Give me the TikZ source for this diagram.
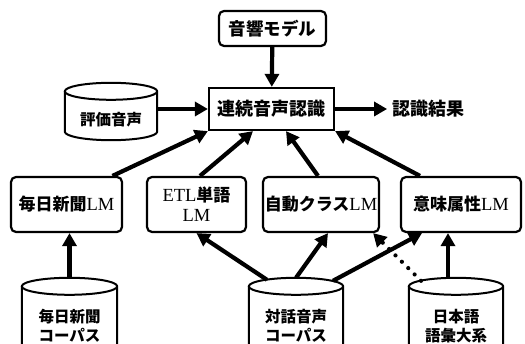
\documentclass[tikz,border=0pt]{standalone}
\usepackage{fontspec}
\setmainfont{Liberation Serif}
\newfontfamily\jp{Noto Sans CJK JP}
\usetikzlibrary{arrows.meta,positioning,calc}

% cylinder drawn round the body of a node, its top ellipse above the node
\newcommand\drum[1]{%
  \draw[drumline] let \p1=(#1.north west), \p2=(#1.south east), \n1={(\x2-\x1)/2} in
    (\x1,\y1+8.5pt) -- (\x1,\y2+8.5pt)
    arc[start angle=180, end angle=360, x radius=\n1, y radius=8.5pt]
    -- (\x2,\y1+8.5pt)
    arc[start angle=0, end angle=360, x radius=\n1, y radius=8.5pt];
  \coordinate (#1-top) at ($(#1.north)+(0,-17)$);
}

\begin{document}
\begin{tikzpicture}[
  x=1pt, y=-1pt,
  font=\fontsize{18.5}{20}\selectfont,
  box/.style={draw, line width=2.2pt, rounded corners=5pt, align=center, inner sep=1pt, minimum height=35pt},
  lm/.style={box, minimum height=55pt},
  core/.style={box, rounded corners=0pt, minimum width=125pt, minimum height=42pt},
  db/.style={align=center, inner sep=0pt, font=\fontsize{15.5}{19}\selectfont\jp\bfseries},
  drumline/.style={line width=2pt},
  arr/.style={-{Triangle[length=13pt,width=14pt]}, line width=4.2pt},
  dots/.style={arr, line cap=round, dash pattern=on 0pt off 9pt}
]
\useasboundingbox (0,0) rectangle (525,344);

\node[box, minimum width=107pt, font=\fontsize{17.5}{19}\selectfont\jp\bfseries] (onkyo) at (272.5,28.5) {音響モデル};
\node[core, font=\fontsize{18}{19}\selectfont\jp\bfseries] (renzoku) at (271.5,109) {連続音声認識};
\node[db, minimum width=92pt, minimum height=40pt] (hyoka) at (111,120) {評価音声};
\node[right=52pt of renzoku, inner sep=5pt, font=\fontsize{18}{19}\selectfont\jp\bfseries] (kekka) {認識結果};

\node[lm, minimum width=111pt] (mainichi) at (66.5,204.5) {{\jp\bfseries\fontsize{17}{19}\selectfont 毎日新聞}LM};
\node[lm, minimum width=99pt] (etl) at (196.5,204.5) {ETL{\jp\bfseries\fontsize{17}{19}\selectfont 単語}\\LM};
\node[lm, minimum width=116pt] (jido) at (321,204.5) {{\jp\bfseries\fontsize{17}{19}\selectfont 自動クラス}LM};
\node[lm, minimum width=120pt] (imi) at (461,204.5) {{\jp\bfseries\fontsize{17}{19}\selectfont 意味属性}LM};

\node[db, minimum width=95pt, minimum height=62pt] (mcorpus) at (69.5,326) {毎日新聞\\コーパス};
\node[db, minimum width=94pt, minimum height=62pt] (tcorpus) at (296,326) {対話音声\\コーパス};
\node[db, minimum width=94pt, minimum height=62pt] (nihongo) at (456,326) {日本語\\語彙大系};

\drum{hyoka}
\drum{mcorpus}
\drum{tcorpus}
\drum{nihongo}

\draw[arr] (onkyo) -- (renzoku);
\draw[arr] (hyoka.east |- renzoku.west) -- (renzoku.west);
\draw[arr] (renzoku) -- (kekka);

\draw[arr] ([xshift=46pt]mainichi.north) -- (renzoku.south west);
\draw[arr] ([xshift=3.5pt]etl.north) -- ([xshift=-18.5pt]renzoku.south);
\draw[arr] ([xshift=-3pt]jido.north) -- ([xshift=14.5pt]renzoku.south);
\draw[arr] ([xshift=-41pt]imi.north) -- (renzoku.south east);

\draw[arr] (mcorpus-top) -- (mcorpus-top |- mainichi.south);
\draw[arr] ($(tcorpus-top)+(-29,2)$) -- (etl.south);
\draw[arr] (tcorpus-top) -- ([xshift=7pt]jido.south);
\draw[arr] ($(tcorpus-top)+(37,3)$) -- ([xshift=-39pt]imi.south);
\draw[dots] ($(nihongo-top)+(-35,3)$) -- ([xshift=-7pt]jido.south east);
\draw[arr] ($(nihongo-top)+(-8,0)$) -- ([xshift=-13pt]imi.south);
\end{tikzpicture}
\end{document}
